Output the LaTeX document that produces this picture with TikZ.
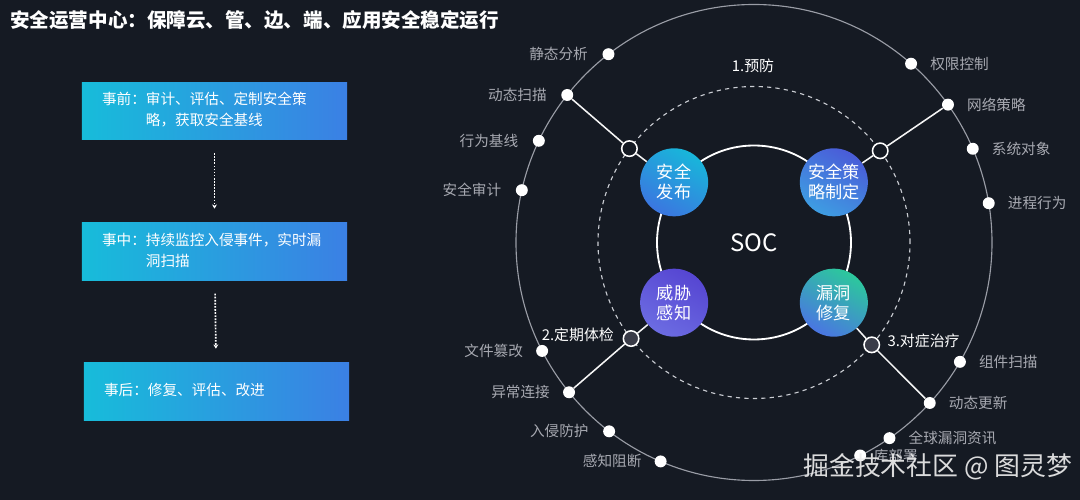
\documentclass[tikz,border=0pt]{standalone}
\usepackage{fontspec}
\setmainfont{Noto Sans CJK SC}
\usetikzlibrary{positioning,arrows.meta,calc}
\definecolor{BgDark}{HTML}{151A23}
\definecolor{BoxCyan}{HTML}{17BCDA}
\definecolor{BoxBlue}{HTML}{3B80E4}
\definecolor{RingGray}{HTML}{9A9DA6}
\definecolor{DashGray}{HTML}{C9CCD2}
\definecolor{LabelGray}{HTML}{A7A9B1}
\definecolor{HollowGray}{HTML}{3A3C48}
\definecolor{RelA}{HTML}{18B6DA}
\definecolor{RelB}{HTML}{3B76E0}
\definecolor{PolA}{HTML}{4A5CD8}
\definecolor{PolB}{HTML}{3E9DE2}
\definecolor{ThrA}{HTML}{5646D2}
\definecolor{ThrB}{HTML}{6C6CE2}
\definecolor{FixA}{HTML}{2CC89C}
\definecolor{FixB}{HTML}{4A76E2}
\tikzset{
  every node/.style  = {text=white},
  stagebox/.style    = {rectangle, left color=BoxCyan, right color=BoxBlue,
                        minimum width=6.625cm, minimum height=1.425cm,
                        text width=160pt, inner xsep=14pt, align=left,
                        font=\fontsize{10.4}{13.5}\selectfont},
  flow/.style        = {densely dotted, line width=1.2pt, draw=white,
                        -{Stealth[length=3pt, width=3.5pt]},
                        shorten <=9.5pt, shorten >=10pt},
  qnode/.style       = {circle, minimum size=1.7cm, inner sep=0pt,
                        align=center, font=\fontsize{12.2}{14.2}\selectfont},
  q_release/.style   = {qnode, left color=RelA, right color=RelB, shading angle=-30},
  q_policy/.style    = {qnode, left color=PolA, right color=PolB, shading angle=-30},
  q_threat/.style    = {qnode, left color=ThrA, right color=ThrB, shading angle=-30},
  q_fix/.style       = {qnode, left color=FixA, right color=FixB, shading angle=-30},
  dot/.style         = {circle, fill=white, minimum size=8.5pt, inner sep=0pt},
  hollow/.style      = {circle, draw=white, fill=BgDark, line width=1.1pt,
                        minimum size=11pt, inner sep=0pt},
  hollow_low/.style  = {hollow, fill=HollowGray},
  link/.style        = {-, line width=1.1pt, draw=white!92!gray},
  lbl/.style         = {text=LabelGray, font=\fontsize{10.4}{12}\selectfont,
                        inner sep=2pt},
  phase/.style       = {text=white, font=\fontsize{10.6}{12}\selectfont,
                        inner sep=2pt},
  ring_outer/.style  = {draw=RingGray, line width=0.8pt},
  ring_dash/.style   = {draw=DashGray, line width=0.8pt, dash pattern=on 3pt off 3pt},
  ring_inner/.style  = {draw=white, line width=1.3pt},
}
\def\OuterR{238}
\def\DashR{156}
\def\InnerR{97}
\def\QR{100}
% stage text: head word, then lines hanging after the colon
\newcommand{\stagetext}[2]{%
  \renewcommand{\arraystretch}{1.1}%
  \begin{tabular}{@{}l@{}l@{}}#1：&#2\end{tabular}}

\begin{document}
\begin{tikzpicture}[x=0.025cm, y=0.025cm]

% =========================================================================
% Canvas
% =========================================================================
\fill[BgDark] (0,0) rectangle (1080,500);
\useasboundingbox (0,0) rectangle (1080,500);

\node[anchor=west, inner sep=0pt, font=\fontsize{13.9}{16}\selectfont\bfseries]
  (title) at (10, 480) {安全运营中心：保障云、管、边、端、应用安全稳定运行};

% =========================================================================
% Left: stages
% =========================================================================
\node[stagebox] (B1) at (214.5, 389)
  {\stagetext{事前}{审计、评估、定制安全策\\&略，获取安全基线}};
\node[stagebox] (B2) at (214.5, 248.5)
  {\stagetext{事中}{持续监控入侵事件，实时漏\\&洞扫描}};
\node[stagebox] (B3) at (216.5, 108.5)
  {\stagetext{事后}{修复、评估、改进}};

\draw[flow] (B1) -- (B2);
\draw[flow] (B2) -- (B3);

% =========================================================================
% Right: rings
% =========================================================================
\coordinate (C) at (754, 257.5);
\draw[ring_outer] (C) circle[radius=\OuterR];
\draw[ring_dash]  (C) circle[radius=\DashR];
\draw[ring_inner] (C) circle[radius=\InnerR];

\node[font=\fontsize{17}{20}\selectfont] (soc) at (C) {SOC};

% --- quadrant nodes ------------------------------------------------------
\node[q_release] (Q1) at ($(C)+(143:\QR)$)  {安全\\发布};
\node[q_policy]  (Q2) at ($(C)+(37:\QR)$)   {安全策\\略制定};
\node[q_threat]  (Q3) at ($(C)+(217:\QR)$)  {威胁\\感知};
\node[q_fix]     (Q4) at ($(C)+(-37:\QR)$)  {漏洞\\修复};

% --- hollow joints on the dashed ring -------------------------------------
\node[hollow]     (H1) at ($(C)+(143:\DashR)$) {};
\node[hollow]     (H2) at ($(C)+(36:\DashR)$)  {};
\node[hollow_low] (H3) at ($(C)+(218:\DashR)$) {};
\node[hollow_low] (H4) at ($(C)+(-41:\DashR)$) {};

% --- dots on the outer ring ------------------------------------------------
% upper left
\node[dot] (D1)  at ($(C)+(127.7:\OuterR)$) {};
\node[dot] (D2)  at ($(C)+(141.7:\OuterR)$) {};
\node[dot] (D3)  at ($(C)+(154.7:\OuterR)$) {};
\node[dot] (D4)  at ($(C)+(167.3:\OuterR)$) {};
% upper right
\node[dot] (D5)  at ($(C)+(48.7:\OuterR)$)  {};
\node[dot] (D6)  at ($(C)+(35.4:\OuterR)$)  {};
\node[dot] (D7)  at ($(C)+(23.2:\OuterR)$)  {};
\node[dot] (D8)  at ($(C)+(9.5:\OuterR)$)   {};
% lower left
\node[dot] (D9)  at ($(C)+(207.1:\OuterR)$) {};
\node[dot] (D10) at ($(C)+(219.0:\OuterR)$) {};
\node[dot] (D11) at ($(C)+(232.5:\OuterR)$) {};
\node[dot] (D12) at ($(C)+(246.9:\OuterR)$) {};
% lower right
\node[dot] (D13) at ($(C)+(-30.1:\OuterR)$) {};
\node[dot] (D14) at ($(C)+(-42.4:\OuterR)$) {};
\node[dot] (D15) at ($(C)+(-55.3:\OuterR)$) {};
\node[dot] (D16) at ($(C)+(-63.5:\OuterR)$) {};

% =========================================================================
% Links
% =========================================================================
\draw[link] (Q1) -- (H1);  \draw[link] (H1) -- (D2);
\draw[link] (Q2) -- (H2);  \draw[link] (H2) -- (D6);
\draw[link] (Q3) -- (H3);  \draw[link] (H3) -- (D10);
\draw[link] (Q4) -- (H4);  \draw[link] (H4) -- (D14);

% =========================================================================
% Labels
% =========================================================================
\node[lbl, left=8pt of D1]   (L1)  {静态分析};
\node[lbl, left=8pt of D2]   (L2)  {动态扫描};
\node[lbl, left=8pt of D3]   (L3)  {行为基线};
\node[lbl, left=8pt of D4]   (L4)  {安全审计};
\node[lbl, right=7pt of D5]  (L5)  {权限控制};
\node[lbl, right=7pt of D6]  (L6)  {网络策略};
\node[lbl, right=7pt of D7]  (L7)  {系统对象};
\node[lbl, right=7pt of D8]  (L8)  {进程行为};
\node[lbl, left=7pt of D9]   (L9)  {文件篡改};
\node[lbl, left=7pt of D10]  (L10) {异常连接};
\node[lbl, left=8pt of D11]  (L11) {入侵防护};
\node[lbl, left=7pt of D12]  (L12) {感知阻断};
\node[lbl, right=7pt of D13] (L13) {组件扫描};
\node[lbl, right=7pt of D14] (L14) {动态更新};
\node[lbl, right=7pt of D15] (L15) {全球漏洞资讯};
\node[lbl, right=3pt of D16] (L16) {库部署};

\node[phase] (P1) at (753, 434) {1.预防};
\node[phase, left=4pt of H3, yshift=3pt]  (P2) {2.定期体检};
\node[phase, right=3pt of H4, yshift=3pt] (P3) {3.对症治疗};

% --- watermark --------------------------------------------------------------
\node[anchor=west, inner sep=0pt, text=white!85!gray, opacity=0.92,
      font=\fontsize{18.4}{20}\selectfont]
  (wm) at (803, 33) {掘金技术社区 @ 图灵梦};

\end{tikzpicture}
\end{document}
